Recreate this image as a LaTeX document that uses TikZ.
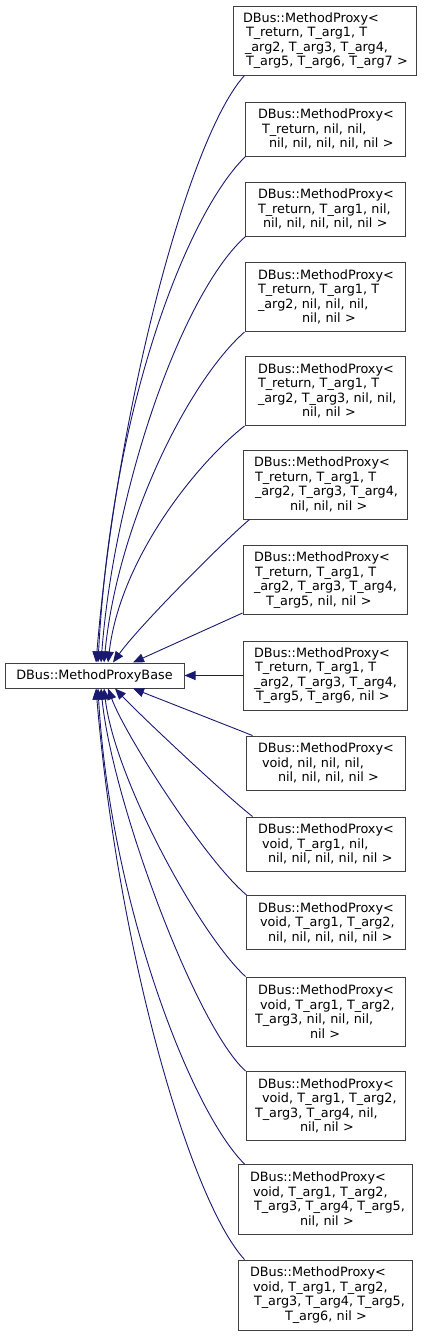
\documentclass[tikz,border=0pt]{standalone}
\usepackage{fontspec}
\setmainfont{DejaVu Sans}
\usetikzlibrary{arrows.meta}
\definecolor{edgeblue}{HTML}{191970}
\definecolor{boxgray}{HTML}{404040}
\newcommand\tline[2][0]{\hspace*{#1pt}\mbox{#2}}
\begin{document}
\begin{tikzpicture}[x=1pt,y=-1pt,
  cls/.style={draw=boxgray, line width=1pt, inner ysep=0pt, align=left,
    font=\fontsize{12.8}{14.5}\selectfont},
  edge/.style={draw=edgeblue, line width=0.9pt, -{Triangle[length=11pt,width=9pt]}}]
\useasboundingbox (0,0) rectangle (424,1336);

\node[cls, align=center, inner xsep=0pt, minimum width=179pt, minimum height=25pt] (base) at (94.5,675.5) {DBus::MethodProxyBase};

\node[cls, inner xsep=10pt, text width=163pt, minimum height=69pt] (b1) at (324.5,40.5)
 {\tline{DBus::MethodProxy<}\\\tline[3]{T\_return, T\_arg1, T}\\\tline[2]{\_arg2, T\_arg3, T\_arg4,}\\\tline[3]{T\_arg5, T\_arg6, T\_arg7 >}};
\node[cls, inner xsep=13pt, text width=134pt, minimum height=54pt] (b2) at (325,129)
 {\tline{DBus::MethodProxy<}\\\tline[4]{T\_return, nil, nil,}\\\tline[11]{nil, nil, nil, nil, nil >}};
\node[cls, inner xsep=13pt, text width=134pt, minimum height=54pt] (b3) at (325,209)
 {\tline{DBus::MethodProxy<}\\\tline{T\_return, T\_arg1, nil,}\\\tline[5]{nil, nil, nil, nil, nil >}};
\node[cls, inner xsep=13pt, text width=134pt, minimum height=69pt] (b4) at (325,297)
 {\tline{DBus::MethodProxy<}\\\tline{T\_return, T\_arg1, T}\\\tline{\_arg2, nil, nil, nil,}\\\tline[44]{nil, nil >}};
\node[cls, inner xsep=13pt, text width=134pt, minimum height=69pt] (b5) at (325,391)
 {\tline{DBus::MethodProxy<}\\\tline{T\_return, T\_arg1, T}\\\tline{\_arg2, T\_arg3, nil, nil,}\\\tline[44]{nil, nil >}};
\node[cls, inner xsep=11pt, text width=142pt, minimum height=69pt] (b6) at (325,484.5)
 {\tline{DBus::MethodProxy<}\\\tline[1]{T\_return, T\_arg1, T}\\\tline[1]{\_arg2, T\_arg3, T\_arg4,}\\\tline[36]{nil, nil, nil >}};
\node[cls, inner xsep=11pt, text width=142pt, minimum height=69pt] (b7) at (325,580)
 {\tline{DBus::MethodProxy<}\\\tline[1]{T\_return, T\_arg1, T}\\\tline{\_arg2, T\_arg3, T\_arg4,}\\\tline[12]{T\_arg5, nil, nil >}};
\node[cls, inner xsep=11pt, text width=142pt, minimum height=69pt] (b8) at (325,675.5)
 {\tline{DBus::MethodProxy<}\\\tline[1]{T\_return, T\_arg1, T}\\\tline{\_arg2, T\_arg3, T\_arg4,}\\\tline[2]{T\_arg5, T\_arg6, nil >}};
\node[cls, inner xsep=12pt, text width=135pt, minimum height=54pt] (b9) at (325.5,763)
 {\tline{DBus::MethodProxy<}\\\tline[4]{void, nil, nil, nil,}\\\tline[20]{nil, nil, nil, nil >}};
\node[cls, inner xsep=12pt, text width=135pt, minimum height=54pt] (b10) at (325.5,844)
 {\tline{DBus::MethodProxy<}\\\tline[4]{void, T\_arg1, nil,}\\\tline[10]{nil, nil, nil, nil, nil >}};
\node[cls, inner xsep=12pt, text width=135pt, minimum height=54pt] (b11) at (325.5,922.5)
 {\tline{DBus::MethodProxy<}\\\tline[2]{void, T\_arg1, T\_arg2,}\\\tline[10]{nil, nil, nil, nil, nil >}};
\node[cls, inner xsep=12pt, text width=135pt, minimum height=69pt] (b12) at (325.5,1011.5)
 {\tline{DBus::MethodProxy<}\\\tline[2]{void, T\_arg1, T\_arg2,}\\\tline[-3]{T\_arg3, nil, nil, nil,}\\\tline[52]{nil >}};
\node[cls, inner xsep=12pt, text width=135pt, minimum height=69pt] (b13) at (325.5,1106)
 {\tline{DBus::MethodProxy<}\\\tline[4]{void, T\_arg1, T\_arg2,}\\\tline[-3]{T\_arg3, T\_arg4, nil,}\\\tline[42]{nil, nil >}};
\node[cls, inner xsep=12pt, text width=150pt, minimum height=70pt] (b14) at (325,1199.5)
 {\tline{DBus::MethodProxy<}\\\tline[3]{void, T\_arg1, T\_arg2,}\\\tline[4]{T\_arg3, T\_arg4, T\_arg5,}\\\tline[50]{nil, nil >}};
\node[cls, inner xsep=12pt, text width=150pt, minimum height=70pt] (b15) at (325,1295)
 {\tline{DBus::MethodProxy<}\\\tline[3]{void, T\_arg1, T\_arg2,}\\\tline[4]{T\_arg3, T\_arg4, T\_arg5,}\\\tline[35]{T\_arg6, nil >}};

% upper edges
\draw[edge] ([xshift=12pt]b1.south west) .. controls (190,135) and (118,400) .. ([xshift=1.5pt]base.north);
\draw[edge] ([xshift=1pt]b2.south west) .. controls (190,210) and (112,400) .. ([xshift=3.5pt]base.north);
\draw[edge] ([xshift=1pt]b3.south west) .. controls (185,290) and (115,480) .. ([xshift=6.5pt]base.north);
\draw[edge] (b4.south west) .. controls (190,380) and (118,520) .. ([xshift=9.5pt]base.north);
\draw[edge] (b5.south west) .. controls (195,465) and (120,560) .. ([xshift=13.5pt]base.north);
\draw[edge] ([xshift=7pt]b6.south west) .. controls (225,540) and (140,625) .. ([xshift=18.5pt]base.north);
\draw[edge] ([yshift=2pt]b7.south west) -- ([xshift=38.5pt]base.north);
\draw[edge] (b8.west) -- (base.east);
% lower edges
\draw[edge] ([xshift=7pt]b9.north west) -- ([xshift=38.5pt]base.south);
\draw[edge] ([xshift=7pt]b10.north west) .. controls (225,795) and (140,715) .. ([xshift=20.5pt]base.south);
\draw[edge] ([xshift=1pt]b11.north west) .. controls (205,860) and (125,735) .. ([xshift=13.5pt]base.south);
\draw[edge] (b12.north west) .. controls (200,935) and (115,780) .. ([xshift=9.5pt]base.south);
\draw[edge] (b13.north west) .. controls (195,1025) and (112,800) .. ([xshift=6.5pt]base.south);
\draw[edge] ([xshift=7pt]b14.north west) .. controls (190,1110) and (110,900) .. ([xshift=3.5pt]base.south);
\draw[edge] ([xshift=7pt]b15.north west) .. controls (190,1200) and (118,951) .. ([xshift=1.5pt]base.south);
\end{tikzpicture}
\end{document}
